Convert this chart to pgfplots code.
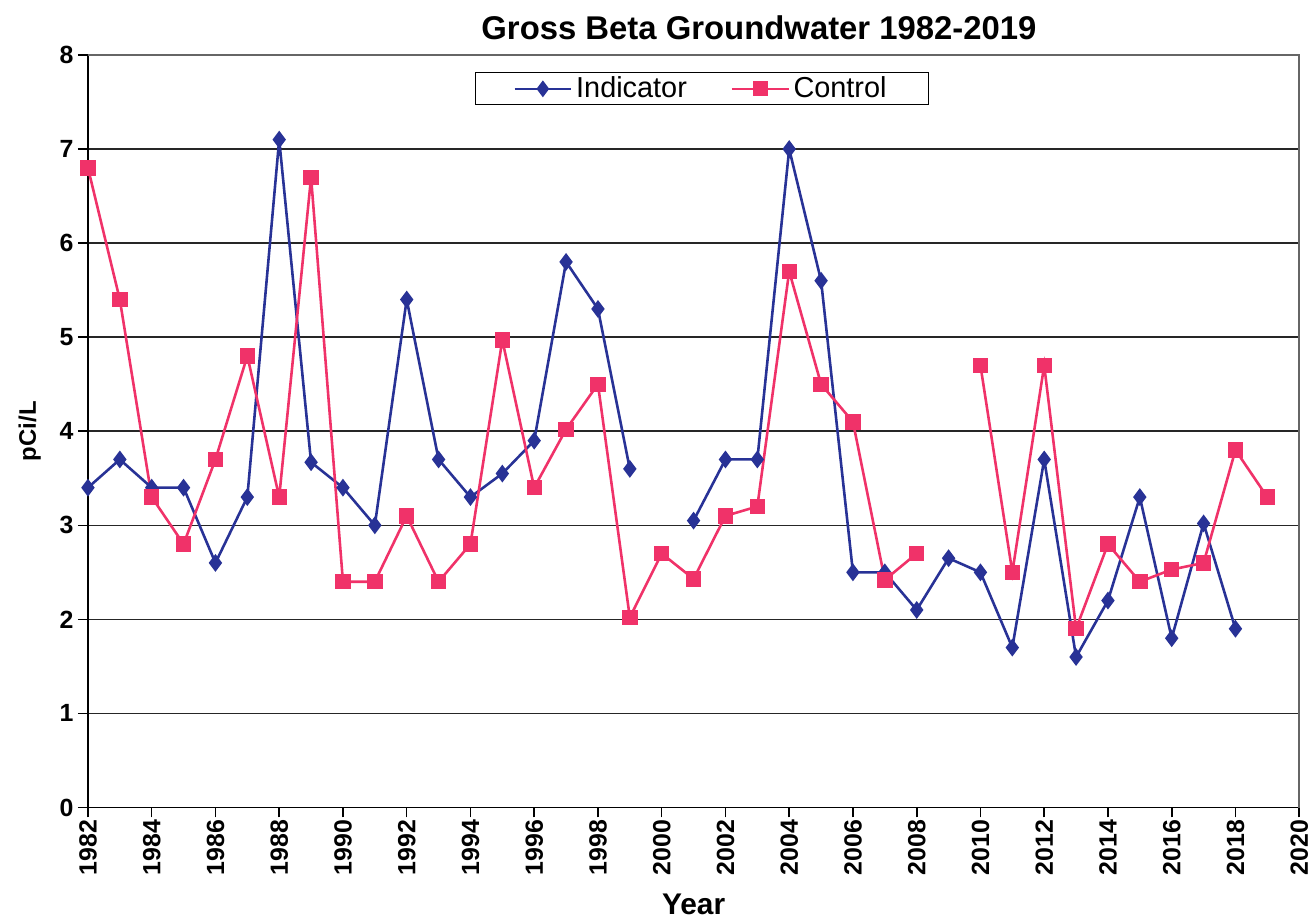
\documentclass[border=0pt]{standalone}
\usepackage{pgfplots}
\pgfplotsset{compat=1.18}
\usepackage{fontspec}
\setmainfont{Liberation Sans}
\definecolor{indblue}{RGB}{40,50,150}
\definecolor{ctlpink}{RGB}{240,50,105}
\begin{document}
\begin{tikzpicture}
\begin{axis}[
  scale only axis,
  width=606bp, height=376.5bp,
  xmin=1982, xmax=2020, ymin=0, ymax=8,
  xtick={1982,1984,...,2020},
  ytick={0,1,...,8},
  xticklabel style={rotate=90, anchor=east, font=\bfseries\fontsize{12.5}{12.5}\selectfont, inner sep=1pt},
  yticklabel style={font=\bfseries\fontsize{12.5}{12.5}\selectfont, inner sep=2pt},
  /pgf/number format/assume math mode=true,
  /pgf/number format/1000 sep={},
  tick align=outside,
  major tick length=5bp,
  tick style={black, line width=0.8pt},
  axis x line*=bottom, axis y line*=left,
  axis line style={black, line width=1pt, -},
  ymajorgrids,
  grid style={black!85, line width=0.8pt},
  xlabel={\bfseries Year},
  xlabel style={font=\fontsize{15}{15}\selectfont, yshift=-5bp},
  ylabel={\bfseries pCi/L},
  ylabel style={font=\fontsize{12}{12}\selectfont, yshift=4bp},
  title={\bfseries Gross Beta Groundwater 1982-2019},
  title style={font=\fontsize{16.5}{16.5}\selectfont, at={(0.554,1)}, anchor=south, inner sep=0pt, yshift=1.5bp},
  unbounded coords=jump,
  legend columns=2,
  legend style={at={(0.507,0.955)}, anchor=center, draw=black, line width=0.6pt,
    font=\fontsize{14.5}{14.5}\selectfont, inner xsep=19bp, inner ysep=0pt,
    /tikz/every even column/.append style={column sep=20bp}},
  legend image code/.code={\draw[mark repeat=2,mark phase=2] plot coordinates {(0cm,0cm) (0.5cm,0cm) (1cm,0cm)};},
  legend image post style={line width=1pt},
  clip=false,
]
\addplot[indblue, line width=1.3pt, mark=diamond*, mark size=3.4bp, mark options={fill=indblue, draw=indblue}] coordinates {
(1982,3.4) (1983,3.7) (1984,3.4) (1985,3.4) (1986,2.6) (1987,3.3) (1988,7.1) (1989,3.67)
(1990,3.4) (1991,3.0) (1992,5.4) (1993,3.7) (1994,3.3) (1995,3.55) (1996,3.9) (1997,5.8)
(1998,5.3) (1999,3.6) (2000,nan) (2001,3.05) (2002,3.7) (2003,3.7) (2004,7.0) (2005,5.6)
(2006,2.5) (2007,2.5) (2008,2.1) (2009,2.65) (2010,2.5) (2011,1.7) (2012,3.7) (2013,1.6)
(2014,2.2) (2015,3.3) (2016,1.8) (2017,3.02) (2018,1.9)
};
\addlegendentry{Indicator}
\addplot[ctlpink, line width=1.3pt, mark=square*, mark size=3.2bp, mark options={fill=ctlpink, draw=ctlpink}] coordinates {
(1982,6.8) (1983,5.4) (1984,3.3) (1985,2.8) (1986,3.7) (1987,4.8) (1988,3.3) (1989,6.7)
(1990,2.4) (1991,2.4) (1992,3.1) (1993,2.4) (1994,2.8) (1995,4.97) (1996,3.4) (1997,4.02)
(1998,4.5) (1999,2.02) (2000,2.7) (2001,2.43) (2002,3.1) (2003,3.2) (2004,5.7) (2005,4.5)
(2006,4.1) (2007,2.42) (2008,2.7) (2009,nan) (2010,4.7) (2011,2.5) (2012,4.7) (2013,1.9)
(2014,2.8) (2015,2.4) (2016,2.53) (2017,2.6) (2018,3.8) (2019,3.3)
};
\addlegendentry{Control}
\draw[black!60, line width=0.8pt] (axis cs:1982,8) -- (axis cs:2020,8) -- (axis cs:2020,0);
\end{axis}
\useasboundingbox (-44bp,-55.5bp) rectangle (611bp,404bp);
\end{tikzpicture}
\end{document}
